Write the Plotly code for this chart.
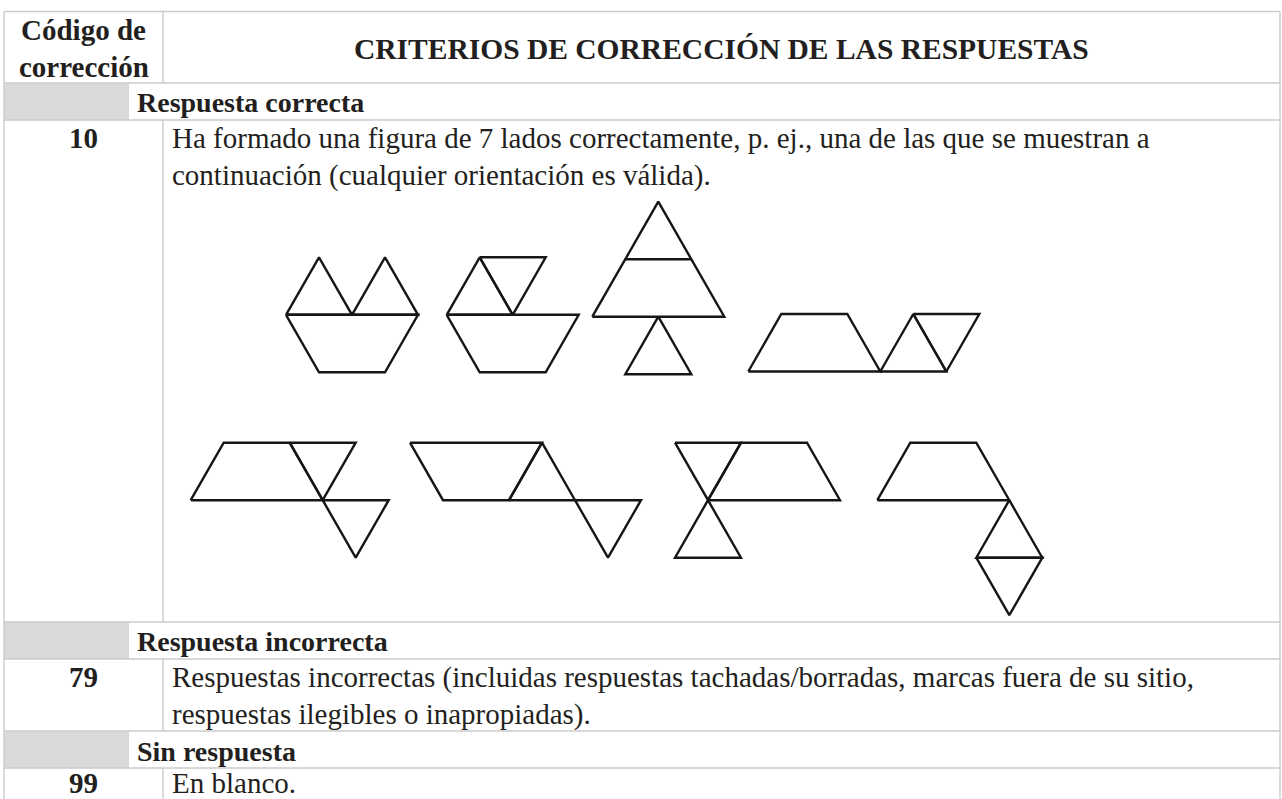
import plotly.graph_objects as go

# ---------------- data ----------------
header_code = ["Código de", "corrección"]
header_title = "CRITERIOS DE CORRECCIÓN DE LAS RESPUESTAS"
sections = ["Respuesta correcta", "Respuesta incorrecta", "Sin respuesta"]
codes = ["10", "79", "99"]
descriptions = [
    ["Ha formado una figura de 7 lados correctamente, p. ej., una de las que se muestran a",
     "continuación (cualquier orientación es válida)."],
    ["Respuestas incorrectas (incluidas respuestas tachadas/borradas, marcas fuera de su sitio,",
     "respuestas ilegibles o inapropiadas)."],
    ["En blanco."],
]

# Figures built from unit equilateral triangles.
# Vertices in lattice units: (half-sides across, triangle-heights down)
fig_a = [[(0, 1), (4, 1), (3, 2), (1, 2)], [(0, 1), (1, 0), (2, 1)], [(2, 1), (3, 0), (4, 1)]]
fig_b = [[(0, 1), (4, 1), (3, 2), (1, 2)], [(0, 1), (1, 0), (2, 1)], [(1, 0), (3, 0), (2, 1)]]
fig_c = [[(0, 2), (2, 0), (4, 2)], [(1, 1), (3, 1)], [(2, 2), (1, 3), (3, 3)]]
fig_d = [[(0, 1), (1, 0), (3, 0), (4, 1)], [(4, 1), (5, 0), (6, 1)], [(5, 0), (7, 0), (6, 1)]]
fig_e = [[(0, 1), (1, 0), (3, 0), (4, 1)], [(3, 0), (5, 0), (4, 1)], [(4, 1), (6, 1), (5, 2)]]
fig_f = [[(0, 0), (4, 0), (3, 1), (1, 1)], [(3, 1), (4, 0), (5, 1)], [(5, 1), (7, 1), (6, 2)]]
fig_g = [[(0, 0), (2, 0), (1, 1)], [(1, 1), (2, 0), (4, 0), (5, 1)], [(1, 1), (0, 2), (2, 2)]]
fig_h = [[(0, 1), (1, 0), (3, 0), (4, 1)], [(4, 1), (3, 2), (5, 2)], [(3, 2), (5, 2), (4, 3)]]
figures = [fig_a, fig_b, fig_c, fig_d, fig_e, fig_f, fig_g, fig_h]

# ---------------- layout constants ----------------
W, H = 1282, 799
XL, XSEP, XGREY, XR = 4, 163, 129, 1280
ROWS = [11.5, 83, 120, 622, 659, 731, 768, 805]
SIDE, TRI_H = 66, 57.5
ORIGINS = [(286, 257.3), (446.7, 257.3), (592.3, 201.7), (748.3, 314),
           (190.7, 442.7), (410, 442.7), (675, 442.7), (877.3, 442.7)]

FONT = "Liberation Serif"
TXT = "#231f20"
GRID = "#cbcbcd"
GREY = "#d9d9db"
FS = 29

fig = go.Figure()

# figure drawings
for polys, (ox, oy) in zip(figures, ORIGINS):
    xs, ys = [], []
    for poly in polys:
        pts = list(poly) + ([poly[0]] if len(poly) > 2 else [])
        for a, b in pts:
            xs.append(ox + a * SIDE / 2)
            ys.append(oy + b * TRI_H)
        xs.append(None)
        ys.append(None)
    fig.add_trace(go.Scatter(x=xs, y=ys, mode="lines",
                             line=dict(color="#161616", width=2.4),
                             hoverinfo="skip", showlegend=False))

shapes = []
# grey bands in section rows
for i in (1, 3, 5):
    shapes.append(dict(type="rect", x0=XL, x1=XGREY, y0=ROWS[i], y1=ROWS[i + 1],
                       fillcolor=GREY, line=dict(width=0), layer="below"))
# horizontal lines
for y in ROWS[:-1]:
    shapes.append(dict(type="line", x0=XL, x1=XR, y0=y, y1=y, line=dict(color=GRID, width=1.4)))
# outer verticals
for x in (XL, XR):
    shapes.append(dict(type="line", x0=x, x1=x, y0=ROWS[0], y1=ROWS[-1], line=dict(color=GRID, width=1.4)))
# column separator (not in section rows)
for i in (0, 2, 4, 6):
    shapes.append(dict(type="line", x0=XSEP, x1=XSEP, y0=ROWS[i], y1=ROWS[i + 1],
                       line=dict(color=GRID, width=1.4)))

ann = []
def add(text, x, y, xanchor="center", bold=False, size=FS):
    ann.append(dict(text=("<b>%s</b>" % text) if bold else text, x=x, y=y, xref="x", yref="y",
                    xanchor=xanchor, yanchor="middle", showarrow=False,
                    font=dict(family=FONT, size=size, color=TXT)))

cx = (XL + XSEP) / 2
add(header_code[0], cx, 30, bold=True)
add(header_code[1], cx, 67, bold=True)
add(header_title, (XSEP + XR) / 2, 48.5, bold=True, size=29.5)

sec_y = [102, 641.5, 751]
row_y = [138, 677, 782.5]
for s, sy in zip(sections, sec_y):
    add(s, 135, sy, xanchor="left", bold=True, size=28)
for c, lines, ry in zip(codes, descriptions, row_y):
    add(c, cx, ry, bold=True)
    for k, line in enumerate(lines):
        add(line, 170, ry + 37.5 * k, xanchor="left")

fig.update_layout(
    width=W, height=H, margin=dict(l=0, r=0, t=0, b=0),
    paper_bgcolor="white", plot_bgcolor="white",
    xaxis=dict(range=[0, W], visible=False, fixedrange=True),
    yaxis=dict(range=[H, 0], visible=False, fixedrange=True),
    shapes=shapes, annotations=ann,
)

fig.write_html("out.html", config={"displayModeBar": False},
               post_script="document.body.style.margin='0';document.body.style.overflow='hidden';")
